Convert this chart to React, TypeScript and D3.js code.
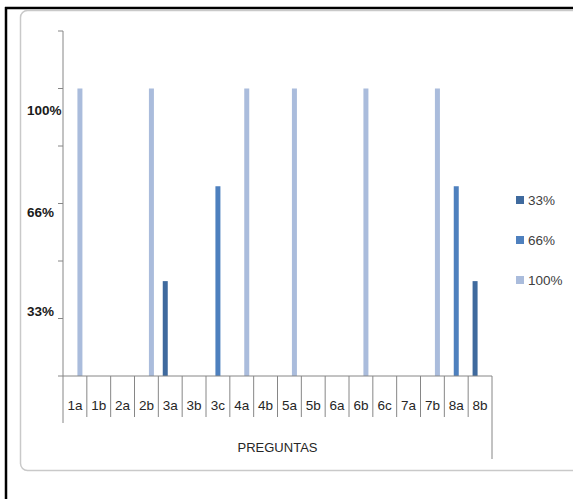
import * as d3 from "d3";

const categories = ["1a", "1b", "2a", "2b", "3a", "3b", "3c", "4a", "4b", "5a", "5b", "6a", "6b", "6c", "7a", "7b", "8a", "8b"];
const seriesNames = ["33%", "66%", "100%"];
const seriesColors = ["#3f6a9e", "#4e80be", "#aabcdc"];
const values33 = [0, 0, 0, 0, 0.33, 0, 0, 0, 0, 0, 0, 0, 0, 0, 0, 0, 0, 0.33];
const values66 = [0, 0, 0, 0, 0, 0, 0.66, 0, 0, 0, 0, 0, 0, 0, 0, 0, 0.66, 0];
const values100 = [1, 0, 0, 1, 0, 0, 0, 1, 0, 1, 0, 0, 1, 0, 0, 1, 0, 0];
const yLabelValues = [1, 0.66, 0.33];
const yLabelTexts = ["100%", "66%", "33%"];

const W = 573;
const H = 499;
const FONT = "'Liberation Sans', Arial, sans-serif";
const AXIS = "#868686";

export default function App() {
  const left = 63;
  const right = 492;
  const top = 31;
  const bottom = 376;

  const x = d3.scaleBand().domain(categories).range([left, right]);
  const cluster = 15;
  const inner = d3.scaleBand().domain(seriesNames).range([0, cluster]);
  const y = d3.scaleLinear().domain([0, 1.2]).range([bottom, top]);

  const series = [values33, values66, values100];

  const bars = series.map((vals, si) =>
    vals.map((v, i) => {
      if (!v) return null;
      const bx = x(categories[i])! + x.bandwidth() / 2 - cluster / 2 + inner(seriesNames[si])!;
      return (
        <rect
          key={`${si}-${i}`}
          x={bx}
          y={y(v)}
          width={inner.bandwidth()}
          height={y(0) - y(v)}
          fill={seriesColors[si]}
        />
      );
    })
  );

  const yTicks = y.ticks(6);

  return (
    <svg
      width={W}
      height={H}
      style={{ position: "absolute", left: 0, top: 0, background: "#fff" }}
    >
      {/* outer frame */}
      <line x1={6} x2={6} y1={7} y2={H} stroke="#000" strokeWidth={2.5} />
      <line x1={5} x2={W} y1={8} y2={8} stroke="#000" strokeWidth={2.5} />
      <rect x={20.5} y={10.5} width={620} height={460} rx={7} fill="none" stroke="#c9c9c9" strokeWidth={1.5} />

      {bars}

      {/* y axis */}
      <line x1={left} x2={left} y1={top} y2={bottom} stroke={AXIS} />
      {yTicks.map((t) => (
        <line key={t} x1={left - 5} x2={left} y1={y(t)} y2={y(t)} stroke={AXIS} />
      ))}
      {yLabelValues.map((v, i) => (
        <text
          key={v}
          x={27}
          y={y(v) + 22 + (1 - v) * 12}
          dominantBaseline="central"
          fontFamily={FONT}
          fontSize={13.5}
          fontWeight="bold"
          fill="#1a1a1a"
        >
          {yLabelTexts[i]}
        </text>
      ))}

      {/* x axis */}
      <line x1={left} x2={right} y1={bottom} y2={bottom} stroke={AXIS} />
      {categories.map((c, i) => {
        const x0 = x(c)!;
        return (
          <g key={c}>
            {i > 0 && <line x1={x0} x2={x0} y1={bottom} y2={417} stroke={AXIS} />}
            <text
              x={x0 + x.bandwidth() / 2}
              y={405}
              textAnchor="middle"
              dominantBaseline="central"
              fontFamily={FONT}
              fontSize={13.5}
              fill="#262626"
            >
              {c}
            </text>
          </g>
        );
      })}
      <line x1={left} x2={left} y1={bottom} y2={423} stroke={AXIS} />
      <line x1={right} x2={right} y1={bottom} y2={459} stroke={AXIS} />
      <text
        x={(left + right) / 2}
        y={447}
        textAnchor="middle"
        dominantBaseline="central"
        fontFamily={FONT}
        fontSize={13}
        fill="#262626"
      >
        PREGUNTAS
      </text>

      {/* legend */}
      {seriesNames.map((s, i) => (
        <g key={s} transform={`translate(516,${200 + i * 40})`}>
          <rect x={0} y={-4} width={8} height={8} fill={seriesColors[i]} />
          <text x={12} y={0} dominantBaseline="central" fontFamily={FONT} fontSize={13.5} fill="#404040">
            {s}
          </text>
        </g>
      ))}
    </svg>
  );
}
